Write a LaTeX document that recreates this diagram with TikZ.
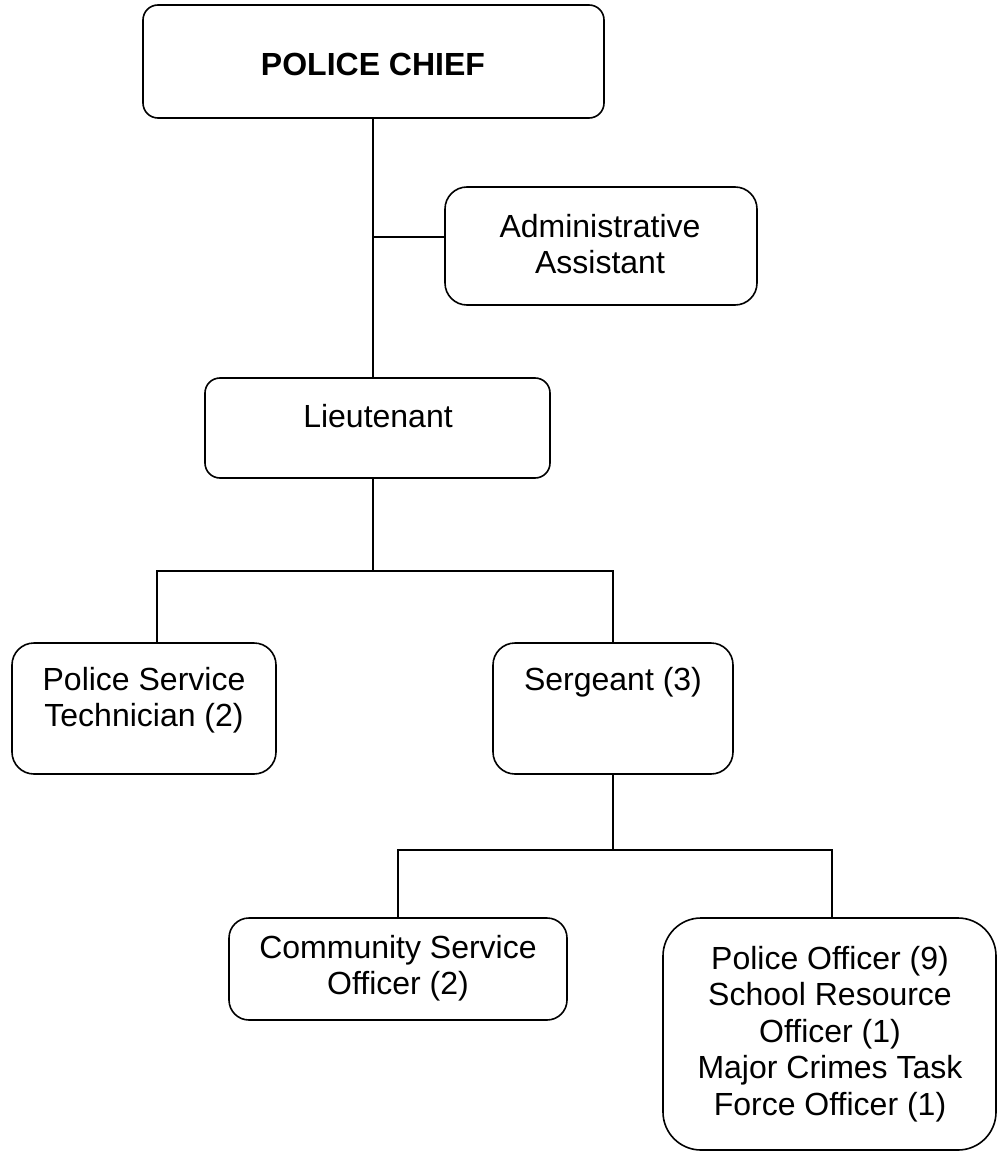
\documentclass[tikz,border=0pt]{standalone}
\usepackage{fontspec}
\setmainfont{Liberation Sans}
\begin{document}
\begin{tikzpicture}[x=1pt,y=-1pt,
  box/.style={draw, line width=1.6pt, inner sep=0pt, outer sep=0pt},
  lbl/.style={align=center, inner sep=0pt, font=\fontsize{32}{36.5}\selectfont},
  wire/.style={line width=1.6pt}]
\useasboundingbox (0,0) rectangle (1002,1158);

% boxes
\node[box, rounded corners=15pt, minimum width=461pt, minimum height=113pt] (chief) at (373.5,61.5) {};
\node[box, rounded corners=22pt, minimum width=312pt, minimum height=118pt] (admin) at (601,246) {};
\node[box, rounded corners=15pt, minimum width=345pt, minimum height=100pt] (lt) at (377.5,428) {};
\node[box, rounded corners=22pt, minimum width=264pt, minimum height=131pt] (pst) at (144,708.5) {};
\node[box, rounded corners=22pt, minimum width=240pt, minimum height=131pt] (sgt) at (613,708.5) {};
\node[box, rounded corners=20pt, minimum width=338pt, minimum height=102pt] (cso) at (398,969) {};
\node[box, rounded corners=38pt, minimum width=333pt, minimum height=232pt] (po) at (829.5,1034) {};

% texts
\node[lbl, font=\fontsize{32}{36.5}\selectfont\bfseries] (chief-t) at (373,64) {POLICE CHIEF};
\node[lbl] (admin-t) at (600,244) {Administrative\\Assistant};
\node[lbl] (lt-t) at (378,416) {Lieutenant};
\node[lbl] (pst-t) at (144,700) {Police Service\\Technician (2)};
\node[lbl] (sgt-t) at (613,682) {Sergeant (3)};
\node[lbl] (cso-t) at (398,968) {Community Service\\Officer (2)};
\node[lbl] (po-t) at (830,1034) {Police Officer (9)\\School Resource\\Officer (1)\\Major Crimes Task\\Force Officer (1)};

% junction points
\coordinate (trunkTop) at (373,118);
\coordinate (adminJoin) at (373,237);
\coordinate (trunkMid) at (373,478);
\coordinate (busA) at (373,571);
\coordinate (busB) at (613,850);

% connectors
\draw[wire] (trunkTop) -- (trunkTop |- lt.north);
\draw[wire] (adminJoin) -- (adminJoin -| admin.west);
\draw[wire] (trunkMid) -- (busA);
\draw[wire] (157,571 |- pst.north) -- (157,571) -- (613,571) -- (613,571 |- sgt.north);
\draw[wire] (sgt.south) -- (busB);
\draw[wire] (cso.north) -- (cso.north |- busB) -- (832,850) -- (832,850 |- po.north);
\end{tikzpicture}
\end{document}
